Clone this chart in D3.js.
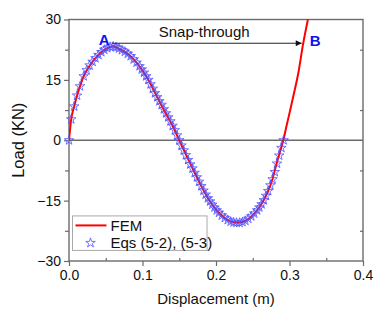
<!DOCTYPE html>
<html>
<head>
<meta charset="utf-8">
<script src="https://cdn.jsdelivr.net/npm/d3@7"></script>
<style>
    body { margin: 0; background: #fff; }
    text { font-family: Arial, "Liberation Sans", sans-serif; }
</style>
</head>
<body>
<svg id="chart" width="387" height="318"></svg>
<script>
/**
 * Load-displacement chart: FEM curve vs equation points.
 */

// FEM curve (displacement m, load KN)
const femData = [
    [0.000, 0.0], [0.003, 5.2], [0.007, 8.4], [0.011, 11.1], [0.020, 15.9], [0.030, 19.0],
    [0.040, 21.2], [0.050, 22.7], [0.060, 23.3], [0.070, 22.6], [0.080, 21.5], [0.090, 19.7],
    [0.100, 17.3], [0.110, 14.3], [0.120, 10.7], [0.130, 7.2], [0.140, 3.9], [0.150, 0.0],
    [0.160, -3.9], [0.170, -7.7], [0.180, -11.4], [0.190, -14.7], [0.200, -17.2], [0.210, -19.0],
    [0.220, -20.2], [0.230, -20.5], [0.240, -20.0], [0.250, -18.6], [0.260, -16.4], [0.270, -13.0],
    [0.276, -10.2], [0.2826, -5.7], [0.2875, -2.6], [0.2916, 0.0], [0.296, 3.6], [0.301, 7.5],
    [0.306, 11.6], [0.312, 16.7], [0.318, 23.4], [0.3256, 30.5]
];

// Eqs (5-2), (5-3) points
const eqData = [
    [0.000, 0.0], [0.003, 5.2], [0.007, 8.4], [0.011, 11.1], [0.015, 13.4], [0.020, 15.9],
    [0.024, 17.4], [0.028, 18.6], [0.032, 19.5], [0.036, 20.4], [0.040, 21.2], [0.044, 21.9],
    [0.048, 22.5], [0.052, 22.9], [0.056, 23.2], [0.060, 23.3], [0.064, 23.1], [0.068, 22.8],
    [0.072, 22.4], [0.076, 22.0], [0.080, 21.5], [0.084, 20.9], [0.088, 20.1], [0.092, 19.3],
    [0.096, 18.4], [0.099, 17.6], [0.102, 16.8], [0.105, 15.9], [0.108, 15.0], [0.111, 13.9],
    [0.114, 12.8], [0.117, 11.7], [0.120, 10.7], [0.123, 9.7], [0.126, 8.8], [0.129, 7.7],
    [0.132, 6.7], [0.135, 5.7], [0.138, 4.7], [0.141, 3.6], [0.144, 2.5], [0.147, 1.2],
    [0.150, 0.0], [0.153, -1.3], [0.156, -2.5], [0.159, -3.7], [0.162, -4.9], [0.165, -6.0],
    [0.168, -7.0], [0.171, -8.1], [0.174, -9.2], [0.177, -10.3], [0.180, -11.4], [0.183, -12.5],
    [0.186, -13.5], [0.189, -14.4], [0.192, -15.2], [0.195, -16.0], [0.198, -16.7], [0.201, -17.4],
    [0.204, -18.0], [0.208, -18.7], [0.212, -19.3], [0.216, -19.8], [0.220, -20.2], [0.224, -20.4],
    [0.228, -20.5], [0.232, -20.5], [0.236, -20.3], [0.240, -20.0], [0.244, -19.5], [0.248, -18.9],
    [0.252, -18.2], [0.256, -17.4], [0.259, -16.7], [0.262, -15.9], [0.265, -14.9], [0.268, -13.8],
    [0.271, -12.6], [0.274, -11.2], [0.277, -9.7], [0.280, -7.9], [0.283, -5.8], [0.286, -3.8],
    [0.289, -1.9], [0.292, 0.0]
];

const xTicks = [0, 0.1, 0.2, 0.3, 0.4],
    xMinor = [0.05, 0.15, 0.25, 0.35],
    yTicks = [-30, -15, 0, 15, 30],
    yMinor = [-22.5, -7.5, 7.5, 22.5];

// Snap-through arrow from A to B
const snapFrom = [0.058, 24.1],
    snapTo = [0.318, 24.1];

const legendLabels = ['FEM', 'Eqs (5-2), (5-3)'];

/**
 * Visual configs.
 */
const margin = { top: 19.5, right: 24, bottom: 57, left: 69 },
    visWidth = 387, visHeight = 318,
    width = visWidth - margin.left - margin.right,
    height = visHeight - margin.top - margin.bottom;

const frameColor = '#6b6b6b',
    femColor = '#ff0000',
    eqColor = '#5050ff',
    labelColor = '#1010ee';

const xScale = d3.scaleLinear().domain([0, 0.4]).range([0, width]),
    yScale = d3.scaleLinear().domain([-30, 30]).range([height, 0]);

const svg = d3.select('#chart');
const g = svg.append('g').attr('transform', 'translate(' + margin.left + ',' + margin.top + ')');

svg.append('defs').append('clipPath').attr('id', 'clip')
    .append('rect').attr('width', width).attr('height', height);

// Zero line
g.append('line')
    .attr('x1', 0).attr('x2', width)
    .attr('y1', yScale(0)).attr('y2', yScale(0))
    .attr('stroke', frameColor).attr('stroke-width', 1.3);

// Axes
function styleAxis(sel) {
    sel.select('.domain').remove();
    sel.selectAll('line').attr('stroke', frameColor).attr('stroke-width', 1.2);
    sel.selectAll('text').attr('font-size', 14).attr('fill', '#111');
}

g.append('g').attr('transform', 'translate(0,' + height + ')')
    .call(d3.axisBottom(xScale).tickValues(xTicks).tickFormat(d3.format('.1f')).tickSize(5).tickPadding(4))
    .call(styleAxis);
g.append('g').attr('transform', 'translate(0,' + height + ')')
    .call(d3.axisTop(xScale).tickValues(xMinor).tickFormat('').tickSize(3))
    .call(styleAxis);
g.append('g')
    .call(d3.axisLeft(yScale).tickValues(yTicks).tickFormat(d3.format('d')).tickSize(5).tickPadding(3))
    .call(styleAxis);
g.append('g')
    .call(d3.axisLeft(yScale).tickValues(yMinor).tickFormat('').tickSize(4))
    .call(styleAxis);
g.append('g').attr('transform', 'translate(' + width + ',0)')
    .call(d3.axisLeft(yScale).tickValues(yMinor).tickFormat('').tickSize(3))
    .call(styleAxis);

// Frame
g.append('rect')
    .attr('width', width).attr('height', height)
    .attr('fill', 'none').attr('stroke', frameColor).attr('stroke-width', 1.4);

// FEM line
const line = d3.line()
    .x(d => xScale(d[0]))
    .y(d => yScale(d[1]))
    .curve(d3.curveMonotoneX);

g.append('path')
    .datum(femData)
    .attr('clip-path', 'url(#clip)')
    .attr('d', line)
    .attr('fill', 'none')
    .attr('stroke', femColor)
    .attr('stroke-width', 2);

// Stars
const star = d3.symbol().type(d3.symbolStar).size(28);
g.append('g').selectAll('path')
    .data(eqData)
    .enter().append('path')
    .attr('transform', d => 'translate(' + xScale(d[0]) + ',' + yScale(d[1]) + ')')
    .attr('d', star)
    .attr('fill', 'none')
    .attr('stroke', eqColor)
    .attr('stroke-width', 0.8);

// Snap-through arrow
svg.append('defs').append('marker')
    .attr('id', 'arrow')
    .attr('viewBox', '0 0 10 10')
    .attr('refX', 10).attr('refY', 5)
    .attr('markerWidth', 9).attr('markerHeight', 6)
    .attr('markerUnits', 'userSpaceOnUse')
    .attr('orient', 'auto')
    .append('path').attr('d', 'M0,0L10,5L0,10Z').attr('fill', '#111');

g.append('line')
    .attr('x1', xScale(snapFrom[0])).attr('y1', yScale(snapFrom[1]))
    .attr('x2', xScale(snapTo[0]) - 1).attr('y2', yScale(snapTo[1]))
    .attr('stroke', '#222').attr('stroke-width', 1)
    .attr('marker-end', 'url(#arrow)');

g.append('text')
    .attr('x', (xScale(snapFrom[0]) + xScale(snapTo[0])) / 2 - 3)
    .attr('y', yScale(snapFrom[1]) - 6)
    .attr('text-anchor', 'middle')
    .attr('font-size', 15)
    .attr('fill', '#111')
    .text('Snap-through');

g.append('text')
    .attr('x', xScale(snapFrom[0]) - 13).attr('y', yScale(snapFrom[1]) + 2)
    .attr('font-size', 15).attr('font-weight', 'bold').attr('fill', labelColor)
    .text('A');
g.append('text')
    .attr('x', xScale(snapTo[0]) + 7).attr('y', yScale(snapTo[1]) + 3)
    .attr('font-size', 15).attr('font-weight', 'bold').attr('fill', labelColor)
    .text('B');

// Axis titles
svg.append('text')
    .attr('x', margin.left + width / 2).attr('y', 304)
    .attr('text-anchor', 'middle')
    .attr('font-size', 15).attr('fill', '#111')
    .text('Displacement (m)');
svg.append('text')
    .attr('transform', 'translate(24,' + (margin.top + height / 2) + ') rotate(-90)')
    .attr('text-anchor', 'middle')
    .attr('font-size', 16.5).attr('fill', '#111')
    .text('Load (KN)');

// Legend
const legend = g.append('g').attr('transform', 'translate(3.5,' + (yScale(-18.8)) + ')');
legend.append('rect')
    .attr('width', 134.5).attr('height', 34.5)
    .attr('fill', '#fff').attr('stroke', '#aaa').attr('stroke-width', 1);
legend.append('line')
    .attr('x1', 3).attr('x2', 34).attr('y1', 9.5).attr('y2', 9.5)
    .attr('stroke', femColor).attr('stroke-width', 2);
legend.append('path')
    .attr('transform', 'translate(18,27)')
    .attr('d', star)
    .attr('fill', 'none').attr('stroke', eqColor).attr('stroke-width', 0.8);
legend.selectAll('text.lbl')
    .data(legendLabels)
    .enter().append('text')
    .attr('class', 'lbl')
    .attr('x', 38)
    .attr('y', (d, i) => 9.5 + i * 17.5)
    .attr('dy', '0.35em')
    .attr('font-size', 15).attr('fill', '#111')
    .text(d => d);
</script>
</body>
</html>
